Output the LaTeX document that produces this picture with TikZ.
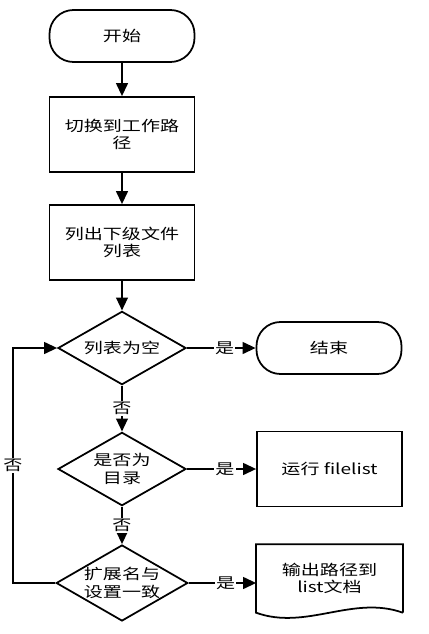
\documentclass[tikz,border=0pt]{standalone}
\usepackage{fontspec}
\setmainfont{Noto Sans CJK SC}[FakeStretch=1.3]
\usetikzlibrary{shapes.geometric,arrows.meta}
\begin{document}
\begin{tikzpicture}[x=0.03cm,y=-0.03cm,line width=1.5pt,
	font=\fontsize{12.5}{15}\selectfont,
	term/.style={draw,rounded corners=0.72cm,minimum width=4.35cm,minimum height=1.56cm},
	proc/.style={draw,minimum width=4.35cm,minimum height=2.25cm,align=center},
	test/.style={draw,diamond,aspect=1.78,inner sep=0pt,minimum width=3.84cm,minimum height=2.2cm,align=center},
	flow/.style={-{Triangle[length=11pt,width=10pt]}},
	lab/.style={fill=white,inner sep=1pt}]
	\useasboundingbox (0,0) rectangle (429,634);
	\node[term] (start) at (122,36) {开始};
	\node[proc] (chdir) at (122,134.5) {切换到工作路\\径};
	\node[proc] (ls) at (122,242.5) {列出下级文件\\列表};
	\node[test] (empty) at (122,348) {列表为空};
	\node[test] (isdir) at (122,469) {是否为\\目录};
	\node[test,minimum height=2.28cm] (ext) at (122,583) {扩展名与\\设置一致};
	\node[term] (stop) at (329,348) {结束};
	\node[proc] (run) at (329.5,469) {运行 filelist};
	\node[minimum width=4.35cm,minimum height=2cm,align=center] (out) at (329.5,578.5) {输出路径到\\list文档};
	\draw (out.south east) -- (out.north east) -- (out.north west) -- (out.south west)
		.. controls +(50,18) and +(-50,-18) .. (out.south east);
	\draw[flow] (start) -- (chdir);
	\draw[flow] (chdir) -- (ls);
	\draw[flow] (ls) -- (empty);
	\draw[flow] (empty) -- node[lab] {否} (isdir);
	\draw[flow] (isdir) -- node[lab] {否} (ext);
	\draw[flow] (empty) -- node[lab,pos=0.55] {是} (stop);
	\draw[flow] (isdir) -- node[lab,pos=0.55] {是} (run);
	\draw[flow] (ext.east) -- node[lab,pos=0.55] {是} (ext.east -| out.west);
	\coordinate (back) at (13,583);
	\draw[flow] (ext.west) -- (back) -- node[lab] {否} (back |- empty) -- (empty.west);
\end{tikzpicture}
\end{document}
